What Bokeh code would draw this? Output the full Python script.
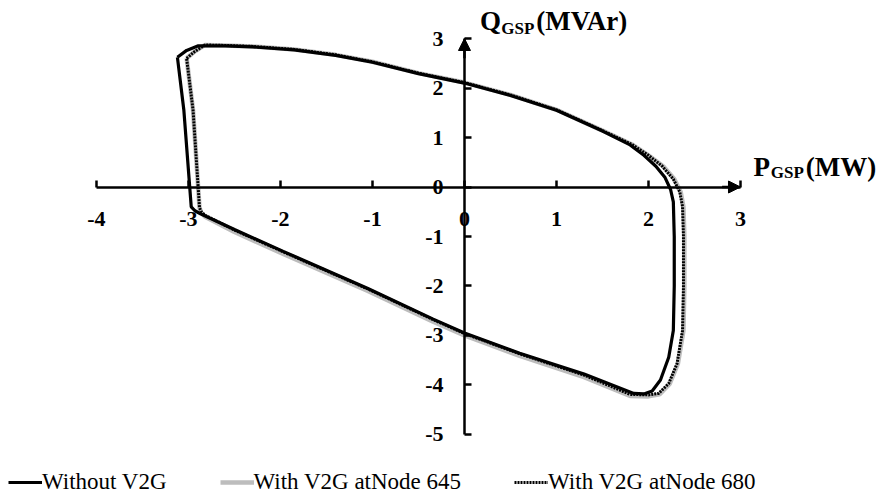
from bokeh.plotting import figure
from bokeh.models import (Range1d, Legend, LegendItem, Arrow, NormalHead,
                          FixedTicker, Label)
from bokeh.embed import file_html
from bokeh.resources import INLINE

# Grid supply point capability loops (P in MW, Q in MVAr)
p_without = [-3.12, -3.02, -2.90, -2.60, -2.30, -1.85, -1.40, -1.00, -0.50, 0.00,
             0.50, 1.00, 1.50, 1.80, 1.95, 2.08, 2.18, 2.24, 2.27, 2.28, 2.28,
             2.27, 2.22, 2.13, 2.04, 1.95, 1.84, 1.30, 0.60, 0.00, -0.34, -1.05,
             -1.97, -2.50, -2.87, -2.93, -2.97, -3.05, -3.12]
q_without = [2.62, 2.76, 2.85, 2.85, 2.83, 2.77, 2.66, 2.52, 2.29, 2.10,
             1.85, 1.55, 1.13, 0.85, 0.64, 0.42, 0.19, -0.05, -0.30, -1.00, -2.00,
             -2.90, -3.44, -3.90, -4.12, -4.18, -4.17, -3.78, -3.36, -2.95, -2.67, -2.05,
             -1.30, -0.86, -0.54, -0.48, -0.40, 1.55, 2.62]

p_node645 = [-3.02, -2.93, -2.82, -2.60, -2.30, -1.85, -1.40, -1.00, -0.50, 0.00,
             0.50, 1.00, 1.50, 1.82, 2.00, 2.16, 2.28, 2.35, 2.38, 2.39, 2.39,
             2.38, 2.32, 2.23, 2.12, 2.00, 1.80, 1.30, 0.60, 0.00, -0.34, -1.05,
             -1.97, -2.50, -2.82, -2.86, -2.88, -2.95, -3.02]
q_node645 = [2.60, 2.74, 2.87, 2.86, 2.84, 2.78, 2.67, 2.53, 2.30, 2.11,
             1.86, 1.56, 1.14, 0.86, 0.64, 0.42, 0.16, -0.10, -0.40, -1.00, -2.00,
             -2.90, -3.57, -3.98, -4.19, -4.23, -4.22, -3.84, -3.41, -3.00, -2.72, -2.10,
             -1.35, -0.91, -0.60, -0.52, -0.42, 1.55, 2.60]

p_node680 = [-3.02, -2.93, -2.82, -2.60, -2.30, -1.85, -1.40, -1.00, -0.50, 0.00,
             0.50, 1.00, 1.50, 1.82, 2.00, 2.15, 2.27, 2.34, 2.37, 2.38, 2.38,
             2.37, 2.31, 2.22, 2.11, 2.00, 1.80, 1.30, 0.60, 0.00, -0.34, -1.05,
             -1.97, -2.50, -2.82, -2.86, -2.88, -2.95, -3.02]
q_node680 = [2.60, 2.74, 2.87, 2.86, 2.84, 2.78, 2.67, 2.53, 2.30, 2.11,
             1.86, 1.56, 1.14, 0.86, 0.64, 0.42, 0.16, -0.10, -0.40, -1.00, -2.00,
             -2.90, -3.57, -3.97, -4.17, -4.20, -4.19, -3.80, -3.37, -2.96, -2.68, -2.06,
             -1.31, -0.87, -0.57, -0.50, -0.42, 1.55, 2.60]

x_ticks = [-4, -3, -2, -1, 0, 1, 2, 3]
x_tick_labels = ["-4", "-3", "-2", "-1", "0", "1", "2", "3"]
y_ticks = [-5, -4, -3, -2, -1, 0, 1, 2, 3]
y_tick_labels = ["-5", "-4", "-3", "-2", "-1", "0", "1", "2", "3"]

series_names = ["Without V2G", "With V2G atNode 645", "With V2G atNode 680"]

SERIF = "Liberation Serif"

p = figure(width=885, height=497, output_backend="svg", toolbar_location=None,
           x_range=Range1d(-5.043, 4.576), y_range=Range1d(-6.273, 3.768),
           min_border=0, outline_line_color=None)
p.grid.visible = False

# Axes crossing at the origin
for ax, ticks, labels, standoff in ((p.xaxis, x_ticks, x_tick_labels, 25),
                                    (p.yaxis, y_ticks, y_tick_labels, 21)):
    ax.fixed_location = 0
    ax.ticker = FixedTicker(ticks=ticks)
    ax.major_label_overrides = {t: s for t, s in zip(ticks, labels)}
    ax.bounds = (min(ticks), max(ticks))
    ax.axis_line_width = 2.5
    ax.axis_line_color = "black"
    ax.major_tick_in = 7
    ax.major_tick_out = 0
    ax.major_tick_line_width = 2.5
    ax.major_tick_line_color = "black"
    ax.minor_tick_line_color = None
    ax.major_label_text_font = SERIF
    ax.major_label_text_font_style = "bold"
    ax.major_label_text_font_size = "22px"
    ax.major_label_text_color = "black"
    ax.major_label_standoff = standoff

# Arrow heads at the positive ends of both axes
head_kw = dict(size=12, fill_color="black", line_color="black")
p.add_layout(Arrow(end=NormalHead(**head_kw), x_start=x_ticks[-1] - 0.2, y_start=0,
                   x_end=x_ticks[-1], y_end=0, line_width=2.5))
p.add_layout(Arrow(end=NormalHead(**head_kw), x_start=0, y_start=y_ticks[-1] - 0.4,
                   x_end=0, y_end=y_ticks[-1], line_width=2.5))

# Loops: grey underneath, then solid black, then dotted on top
r645 = p.line(p_node645, q_node645, line_color="#bdbdbd", line_width=4.5)
r0 = p.line(p_without, q_without, line_color="black", line_width=3.2)
r680 = p.line(p_node680, q_node680, line_color="black", line_width=3,
              line_dash="2 1")

# Axis titles with subscripts
def title(parts, y_base, y_sub):
    for x, txt, size, sub in parts:
        p.add_layout(Label(x=x, y=y_sub if sub else y_base, text=txt,
                           text_font=SERIF, text_font_style="bold",
                           text_font_size=size, text_color="black",
                           text_baseline="alphabetic", text_align="left"))

title([(3.14, "P", "27px", False), (3.33, "GSP", "17px", True),
       (3.71, "(MW)", "27px", False)], 0.41, 0.29)
title([(0.17, "Q", "27px", False), (0.40, "GSP", "17px", True),
       (0.78, "(MVAr)", "27px", False)], 3.35, 3.21)

legend = Legend(items=[LegendItem(label=series_names[0], renderers=[r0]),
                       LegendItem(label=series_names[1], renderers=[r645]),
                       LegendItem(label=series_names[2], renderers=[r680])],
                orientation="horizontal", location=(8, 2),
                glyph_width=34, label_standoff=0, spacing=53, padding=4,
                border_line_color=None, background_fill_alpha=0,
                label_text_font=SERIF, label_text_font_size="23px",
                label_text_color="black")
p.add_layout(legend)

open("out.html", "w").write(file_html(p, INLINE))
